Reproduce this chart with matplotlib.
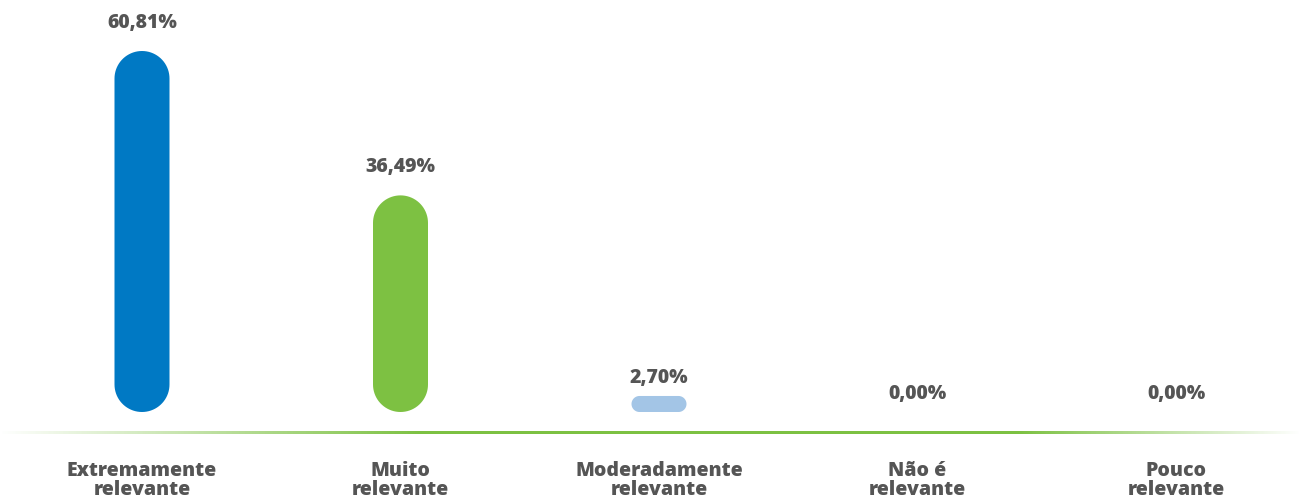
import numpy as np
import matplotlib
matplotlib.use("Agg")
import matplotlib.pyplot as plt
from matplotlib.patches import Polygon

categories = ["Extremamente\nrelevante", "Muito\nrelevante", "Moderadamente\nrelevante",
              "Não é\nrelevante", "Pouco\nrelevante"]
values = [60.81, 36.49, 2.70, 0.00, 0.00]
value_labels = ["60,81%", "36,49%", "2,70%", "0,00%", "0,00%"]
colors = ["#0079C4", "#7DC142", "#A3C5E6", "#A3C5E6", "#A3C5E6"]

plt.rcParams['font.family'] = ['Open Sans', 'DejaVu Sans']
text_color = "#555555"

W, H = 1300, 499
fig = plt.figure(figsize=(W / 100, H / 100), dpi=100)
ax = fig.add_axes([0, 0, 1, 1])
ax.axis("off")

# pixel layout: first bar centre at 142 px, step 258.5 px, bar base at 412 px
step_px = 258.5
x0_px = 142
base_px = 412
px_per_pct = 361 / 60.81
xlim = (-x0_px / step_px, (W - x0_px) / step_px)
ylim = (-(H - base_px) / px_per_pct, base_px / px_per_pct)
ax.set_xlim(*xlim)
ax.set_ylim(*ylim)

bar_w_px = 55


def pill(xc, height, color):
    # stadium shape built in pixel units, then scaled into data units
    w = bar_w_px
    h = height * px_per_pct
    r = min(w, h) / 2
    t = np.linspace(0, np.pi / 2, 20)
    pts = []
    corners = [(w / 2 - r, h - r, 0), (-w / 2 + r, h - r, np.pi / 2),
               (-w / 2 + r, r, np.pi), (w / 2 - r, r, 1.5 * np.pi)]
    for cx, cy, a0 in corners:
        pts += list(zip(cx + r * np.cos(a0 + t), cy + r * np.sin(a0 + t)))
    pts = np.array(pts)
    pts[:, 0] = xc + pts[:, 0] / step_px
    pts[:, 1] = pts[:, 1] / px_per_pct
    ax.add_patch(Polygon(pts, closed=True, fc=color, ec="none"))


for i, (v, c, lab) in enumerate(zip(values, colors, value_labels)):
    if v > 0:
        pill(i, v, c)
    off = 23 if v > 10 else 13
    ax.annotate(lab, (i, v), xytext=(0, off * 0.72), textcoords="offset points",
                ha="center", va="baseline", fontsize=14, fontweight="heavy",
                color=text_color)

# baseline: green stripe fading out at both ends
line_y = -(432 - base_px) / px_per_pct
px = np.arange(W) + 0.5
alpha = np.clip(np.minimum(px / 420, (W - px) / 280), 0, 1)
grad = np.zeros((1, W, 4))
grad[..., 0], grad[..., 1], grad[..., 2] = 0.49, 0.76, 0.26
grad[..., 3] = alpha
half = 1.5 / px_per_pct
ax.imshow(grad, extent=(xlim[0], xlim[1], line_y - half, line_y + half),
          aspect="auto", interpolation="bilinear", zorder=1)
ax.set_xlim(*xlim)
ax.set_ylim(*ylim)

for i, cat in enumerate(categories):
    top, bottom = cat.split("\n")
    ax.text(i, -(476 - base_px) / px_per_pct, top, ha="center", va="baseline",
            fontsize=14, fontweight="heavy", color=text_color)
    ax.text(i, -(495 - base_px) / px_per_pct, bottom, ha="center", va="baseline",
            fontsize=14, fontweight="heavy", color=text_color)

fig.savefig("out.png", dpi=100, facecolor="white")
